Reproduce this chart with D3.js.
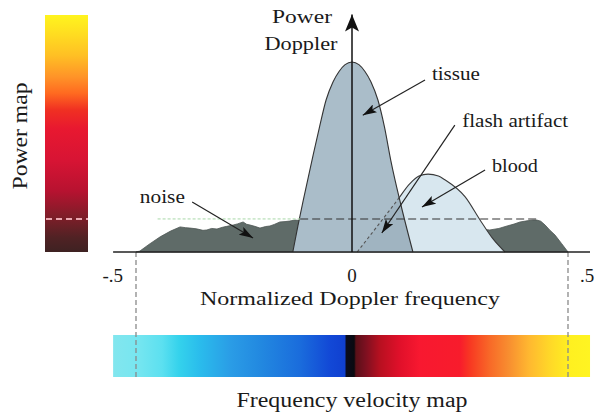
<!DOCTYPE html>
<html>
<head>
<meta charset="utf-8">
<script src="https://cdn.jsdelivr.net/npm/d3@7"></script>
<style>
  body { margin: 0; background: #fff; }
  svg text { font-family: "Liberation Serif", "Tinos", "Times New Roman", "Nimbus Roman", "FreeSerif", "Noto Serif", serif; fill: #1a1a1a; }
</style>
</head>
<body>
<div id="chart"></div>
<script>
// frequency axis ticks
const xTicks = [-0.5, 0, 0.5];
const xTickLabels = ["-.5", "0", ".5"];

// spectra (normalized freq, power with tissue peak = 100)
const tissueFreq  = [-0.137, -0.125, -0.113, -0.09, -0.075, -0.06, -0.044, -0.03, -0.016, 0, 0.016, 0.03, 0.044, 0.06, 0.075, 0.09, 0.113, 0.141];
const tissuePower = [0, 14, 27, 51, 66, 80, 89.5, 95, 98.6, 100, 98.6, 95, 89.5, 80, 66, 48, 25, 0];

const bloodFreq  = [0.012, 0.06, 0.104, 0.134, 0.155, 0.176, 0.2, 0.215, 0.262, 0.296, 0.326, 0.354];
const bloodPower = [0, 14, 27, 36, 40, 41, 40, 38, 29, 17, 7, 0];

const noiseFreq  = [-0.5, -0.491, -0.47, -0.444, -0.42, -0.398, -0.385, -0.375, -0.36, -0.345, -0.336, -0.325, -0.3125, -0.3, -0.29, -0.275, -0.265, -0.252, -0.244, -0.236, -0.225, -0.213, -0.2, -0.19, -0.18, -0.167, -0.155, -0.144, -0.132, -0.1, 0, 0.1, 0.2, 0.3, 0.319, 0.34, 0.359, 0.375, 0.389, 0.405, 0.419, 0.428, 0.437, 0.447, 0.458, 0.47, 0.485, 0.5];
const noisePower = [0, 0.5, 4, 8, 11, 13.2, 12.8, 12.6, 12.2, 11.4, 11.6, 12.4, 12.1, 13, 13.5, 14.2, 14.8, 15.8, 14.6, 14.2, 13.5, 12.6, 13.4, 13.7, 14.5, 15.8, 16, 16.3, 16.8, 16, 15, 14, 13, 12, 11.6, 12.4, 13.7, 14.7, 15.8, 16.4, 16.8, 16.8, 16.2, 14.2, 11.5, 8.9, 4.5, 0];

const noiseLevel = 17.4;

// colour maps
const velocityStopFreq  = [-0.553, -0.5, -0.44, -0.4, -0.352, -0.28, -0.21, -0.12, -0.05, -0.017, -0.013, 0.005, 0.009, 0.03, 0.065, 0.11, 0.157, 0.25, 0.275, 0.32, 0.365, 0.41, 0.458, 0.505, 0.551];
const velocityStopColor = ["#82e6ee", "#78e6f0", "#5ce0f0", "#34d2ec", "#2abcec", "#2a9ce6", "#2288e0", "#1a6cdc", "#1248d6", "#1040d0", "#0a0c1c", "#0a0a10", "#5a1018", "#7a1020", "#b81020", "#e0102a", "#f81830", "#f81c2c", "#f83a22", "#f86a28", "#f89030", "#ffb830", "#ffd828", "#fff020", "#fff422"];

const powerStopLevel = [0, 0.06, 0.14, 0.26, 0.39, 0.52, 0.6, 0.67, 0.74, 0.83, 0.93, 1];
const powerStopColor = ["#3e2222", "#502224", "#7a1e28", "#b81230", "#d81434", "#e81830", "#f03022", "#ff6a20", "#ff9428", "#ffc024", "#ffe020", "#fff41e"];

// labels with their anchor in data coords
const annotations = [
  { text: "tissue",         lf: 0.185,  lp: 90.5, f0: 0.169,  p0: 90.5, f1: 0.025,  p1: 72,   len: 48 },
  { text: "flash artifact", lf: 0.255,  lp: 65.8, f0: 0.238,  p0: 66.8, f1: 0.069,  p1: 10,   len: 106 },
  { text: "blood",          lf: 0.324,  lp: 42.1, f0: 0.308,  p0: 43.2, f1: 0.162,  p1: 23.7, len: 46 },
  { text: "noise",          lf: -0.491, lp: 25.8, f0: -0.37,  p0: 26.3, f1: -0.229, p1: 7.4,  len: 45 }
];

const W = 595, H = 415;

const svg = d3.select("#chart").append("svg")
    .attr("width", W)
    .attr("height", H);

const x = d3.scaleLinear().domain([-0.5, 0.5]).range([136, 568]);
const y = d3.scaleLinear().domain([0, 100]).range([252, 62]);

const defs = svg.append("defs");

// gradients
let vg = defs.append("linearGradient").attr("id", "velGrad")
    .attr("x1", "0%").attr("x2", "100%").attr("y1", "0%").attr("y2", "0%");
const vMin = velocityStopFreq[0], vMax = velocityStopFreq[velocityStopFreq.length - 1];
velocityStopFreq.forEach((f, i) => {
  vg.append("stop")
    .attr("offset", ((f - vMin) / (vMax - vMin) * 100) + "%")
    .attr("stop-color", velocityStopColor[i]);
});

let pg = defs.append("linearGradient").attr("id", "powGrad")
    .attr("x1", "0%").attr("x2", "0%").attr("y1", "100%").attr("y2", "0%");
powerStopLevel.forEach((l, i) => {
  pg.append("stop").attr("offset", (l * 100) + "%").attr("stop-color", powerStopColor[i]);
});

defs.append("marker").attr("id", "head")
    .attr("markerUnits", "userSpaceOnUse")
    .attr("markerWidth", 15).attr("markerHeight", 9)
    .attr("refX", 14).attr("refY", 4.5)
    .attr("orient", "auto")
  .append("path").attr("d", "M0,0 L14,4.5 L0,9 L3,4.5 z").attr("fill", "#111");

defs.append("marker").attr("id", "axisHead")
    .attr("markerUnits", "userSpaceOnUse")
    .attr("markerWidth", 18).attr("markerHeight", 14)
    .attr("refX", 17).attr("refY", 7)
    .attr("orient", "auto")
  .append("path").attr("d", "M0,0 L17,7 L0,14 L4,7 z").attr("fill", "#111");

// power map colour bar
svg.append("rect")
    .attr("x", 45).attr("y", 15)
    .attr("width", 43).attr("height", 237)
    .attr("fill", "url(#powGrad)");

svg.append("line")
    .attr("x1", 46).attr("x2", 88)
    .attr("y1", y(noiseLevel)).attr("y2", y(noiseLevel))
    .attr("stroke", "#eaa6b0").attr("stroke-width", 2)
    .attr("stroke-dasharray", "6,4");

svg.append("text")
    .attr("transform", "translate(27,136) rotate(-90)")
    .attr("text-anchor", "middle")
    .attr("font-size", 20)
    .attr("textLength", 107).attr("lengthAdjust", "spacingAndGlyphs")
    .text("Power map");

// velocity colour bar
const barTop = 335, barBottom = 377;
svg.append("rect")
    .attr("x", x(vMin)).attr("y", barTop)
    .attr("width", x(vMax) - x(vMin)).attr("height", barBottom - barTop)
    .attr("fill", "url(#velGrad)");

// dashed guides at +-.5
svg.selectAll(".guide")
  .data([-0.5, 0.5])
  .enter().append("line")
    .attr("class", "guide")
    .attr("x1", d => x(d)).attr("x2", d => x(d))
    .attr("y1", y(0)).attr("y2", barBottom + 2)
    .attr("stroke", "#8a8a8a").attr("stroke-width", 1.3)
    .attr("stroke-dasharray", "5,3");

// spectra
const zip = (fs, ps) => fs.map((f, i) => ({ f: f, p: ps[i] }));
const noise = zip(noiseFreq, noisePower);
const blood = zip(bloodFreq, bloodPower);
const tissue = zip(tissueFreq, tissuePower);

const areaLin = d3.area().x(d => x(d.f)).y0(y(0)).y1(d => y(d.p));
const areaSmooth = d3.area().x(d => x(d.f)).y0(y(0)).y1(d => y(d.p)).curve(d3.curveMonotoneX);
const lineSmooth = d3.line().x(d => x(d.f)).y(d => y(d.p)).curve(d3.curveMonotoneX);

svg.append("path")
    .attr("d", areaLin(noise))
    .attr("fill", "#5f6b68")
    .attr("stroke", "#4c5653").attr("stroke-width", 0.8);

svg.append("path")
    .attr("d", areaSmooth(blood))
    .attr("fill", "#d8e7ef");
svg.append("path")
    .attr("d", lineSmooth(blood))
    .attr("fill", "none")
    .attr("stroke", "#3a3a3a").attr("stroke-width", 1.1);

svg.append("path")
    .attr("d", areaSmooth(tissue))
    .attr("fill", "#aabdc9");

defs.append("clipPath").attr("id", "tissueClip")
  .append("path").attr("d", areaSmooth(tissue));

// flash artifact: blood hidden inside tissue
svg.append("path")
    .attr("d", areaSmooth(blood))
    .attr("clip-path", "url(#tissueClip)")
    .attr("fill", "#a0b4c1");
svg.append("path")
    .attr("d", lineSmooth(blood))
    .attr("clip-path", "url(#tissueClip)")
    .attr("fill", "none")
    .attr("stroke", "#555").attr("stroke-width", 1.1)
    .attr("stroke-dasharray", "3,2.5");

svg.append("path")
    .attr("d", lineSmooth(tissue))
    .attr("fill", "none")
    .attr("stroke", "#333").attr("stroke-width", 1.1);

// noise level
svg.append("line")
    .attr("x1", x(-0.45)).attr("x2", x(-0.12))
    .attr("y1", y(noiseLevel)).attr("y2", y(noiseLevel))
    .attr("stroke", "#a8d8a8").attr("stroke-width", 1)
    .attr("stroke-dasharray", "3,2");
svg.append("line")
    .attr("x1", x(-0.12)).attr("x2", x(0.428))
    .attr("y1", y(noiseLevel)).attr("y2", y(noiseLevel))
    .attr("stroke", "#333").attr("stroke-width", 1.1)
    .attr("stroke-dasharray", "8,4");

// baseline and power axis
svg.append("line")
    .attr("x1", x(vMin)).attr("x2", x(vMax))
    .attr("y1", y(0)).attr("y2", y(0))
    .attr("stroke", "#222").attr("stroke-width", 1.5);

svg.append("line")
    .attr("x1", x(0)).attr("x2", x(0))
    .attr("y1", y(0)).attr("y2", y(125))
    .attr("stroke", "#111").attr("stroke-width", 1.5)
    .attr("marker-end", "url(#axisHead)");

svg.append("text")
    .attr("x", 302).attr("y", 23)
    .attr("text-anchor", "middle").attr("font-size", 19)
    .attr("textLength", 60).attr("lengthAdjust", "spacingAndGlyphs")
    .text("Power");
svg.append("text")
    .attr("x", 301).attr("y", 50)
    .attr("text-anchor", "middle").attr("font-size", 19)
    .attr("textLength", 73).attr("lengthAdjust", "spacingAndGlyphs")
    .text("Doppler");

// tick labels
svg.selectAll(".tick")
  .data(xTicks)
  .enter().append("text")
    .attr("class", "tick")
    .attr("x", d => d < 0 ? x(d) - 13 : d > 0 ? x(d) + 12 : x(d))
    .attr("y", 282)
    .attr("font-size", 19)
    .attr("text-anchor", d => d < 0 ? "end" : d > 0 ? "start" : "middle")
    .text((d, i) => xTickLabels[i]);

svg.append("text")
    .attr("x", 350).attr("y", 305)
    .attr("text-anchor", "middle").attr("font-size", 19)
    .attr("textLength", 300).attr("lengthAdjust", "spacingAndGlyphs")
    .text("Normalized Doppler frequency");

svg.append("text")
    .attr("x", 352).attr("y", 407)
    .attr("text-anchor", "middle").attr("font-size", 20)
    .attr("textLength", 231).attr("lengthAdjust", "spacingAndGlyphs")
    .text("Frequency velocity map");

// annotations
annotations.forEach(a => {
  svg.append("line")
      .attr("x1", x(a.f0)).attr("y1", y(a.p0))
      .attr("x2", x(a.f1)).attr("y2", y(a.p1))
      .attr("stroke", "#222").attr("stroke-width", 1.2)
      .attr("marker-end", "url(#head)");
  svg.append("text")
      .attr("x", x(a.lf)).attr("y", y(a.lp))
      .attr("font-size", 19)
      .attr("textLength", a.len).attr("lengthAdjust", "spacingAndGlyphs")
      .text(a.text);
});
</script>
</body>
</html>
